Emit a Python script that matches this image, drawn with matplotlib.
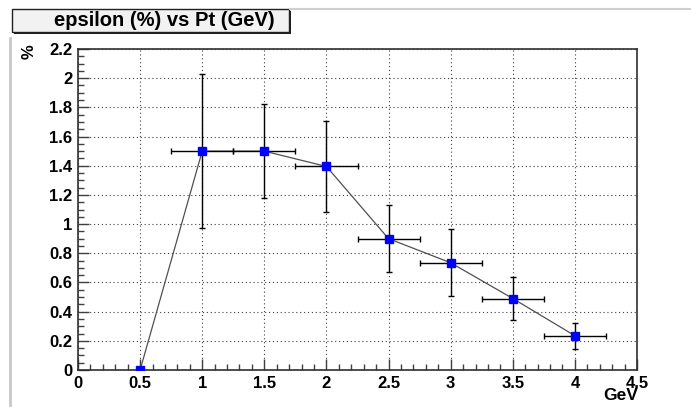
import matplotlib
matplotlib.use('Agg')
import matplotlib.pyplot as plt
from matplotlib.ticker import MultipleLocator
from matplotlib.patches import Rectangle
from matplotlib.lines import Line2D

plt.rcParams['font.family'] = ['Liberation Sans', 'DejaVu Sans']
plt.rcParams['font.weight'] = 'bold'

# data
pt = [0.5, 1.0, 1.5, 2.0, 2.5, 3.0, 3.5, 4.0]
eps = [0.0, 1.50, 1.50, 1.395, 0.90, 0.735, 0.49, 0.235]
eps_err = [0.0, 0.53, 0.32, 0.31, 0.23, 0.23, 0.15, 0.09]
pt_err = [0.0, 0.25, 0.25, 0.25, 0.25, 0.25, 0.25, 0.25]

fig = plt.figure(figsize=(6.91, 4.07), dpi=100)
W, H = 691, 407
ax = fig.add_axes([78 / W, 1 - 370 / H, (637 - 78) / W, (370 - 49) / H])

ax.plot(pt, eps, color='#505050', lw=0.9, zorder=2)
ax.errorbar(pt[1:], eps[1:], yerr=eps_err[1:], xerr=pt_err[1:], fmt='none',
            ecolor='black', elinewidth=1.0, capsize=2.5, capthick=1.0, zorder=3)
ax.plot(pt, eps, ls='none', marker='s', ms=6, color='#0000ff', zorder=4)

ax.set_xlim(0, 4.5)
ax.set_ylim(0, 2.2)
ax.xaxis.set_major_locator(MultipleLocator(0.5))
ax.xaxis.set_minor_locator(MultipleLocator(0.1))
ax.yaxis.set_major_locator(MultipleLocator(0.2))
ax.yaxis.set_minor_locator(MultipleLocator(0.05))
ax.xaxis.set_major_formatter(plt.FuncFormatter(lambda v, p: ('%g' % v)))
ax.yaxis.set_major_formatter(plt.FuncFormatter(lambda v, p: ('%g' % v)))
ax.tick_params(which='both', direction='in', top=False, right=False,
               labelsize=12, color='#404040')
ax.tick_params(which='major', length=8, width=1, pad=4)
ax.tick_params(which='minor', length=4, width=1)
ax.grid(True, which='major', ls=(0, (1, 2.5)), color='#404040', lw=0.8)
for s in ax.spines.values():
    s.set_linewidth(1.2)
    s.set_color('#303030')

# axis titles in ROOT style
fig.text(29 / W, 1 - 52 / H, '%', rotation=90, ha='center', va='center',
         fontsize=12, fontweight='bold')
fig.text(638 / W, 1 - 396 / H, 'GeV', ha='right', va='center',
         fontsize=12.5, fontweight='bold')

# pad borders
fig.add_artist(Line2D([10 / W, 10 / W], [0, 1 - 38 / H], color='#c8c8c8', lw=2))
fig.add_artist(Line2D([290 / W, 1], [1 - 9 / H, 1 - 9 / H], color='#d0d0d0', lw=1.5))

# title box with shadow
fig.add_artist(Rectangle((14 / W, 1 - 34 / H), 277 / W, 23 / H,
                         facecolor='#202020', edgecolor='none'))
fig.add_artist(Rectangle((12 / W, 1 - 32 / H), 277 / W, 23 / H,
                         facecolor='#f2f2f2', edgecolor='#202020', lw=1))
fig.text(164 / W, 1 - 20 / H, 'epsilon (%) vs Pt (GeV)', ha='center', va='center',
         fontsize=14.5, fontweight='bold')

fig.savefig('out.png', dpi=100)
